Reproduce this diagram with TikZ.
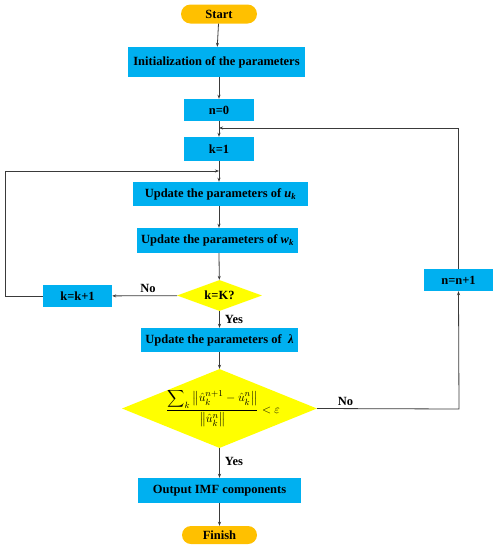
\documentclass[tikz,border=0pt]{standalone}
\usepackage{fontspec}
\setmainfont{Liberation Serif}
\usepackage{amsmath}
\usetikzlibrary{shapes.geometric,shapes.misc,arrows.meta}
\definecolor{boxblue}{HTML}{00B0F0}
\definecolor{pillorange}{HTML}{FFC000}
\definecolor{decyellow}{HTML}{FFFF00}
\definecolor{linegray}{HTML}{3A3A3A}
\tikzset{
  procbox/.style={fill=boxblue, draw=none, inner sep=0pt, font=\fontsize{12.5}{14}\selectfont\bfseries, align=center},
  pill/.style={fill=pillorange, draw=none, rounded rectangle, inner sep=0pt, font=\fontsize{12.5}{14}\selectfont\bfseries},
  decision/.style={fill=decyellow, draw=none, diamond, aspect=2.6, inner sep=0pt, font=\fontsize{12.5}{14}\selectfont\bfseries},
  flow/.style={draw=linegray, line width=0.8pt, -{Stealth[length=4pt,width=3pt]}},
  lbl/.style={font=\fontsize{12.5}{14}\selectfont\bfseries, inner sep=0pt}
}
\begin{document}
\begin{tikzpicture}[x=1pt,y=-1pt]
\useasboundingbox (0,0) rectangle (498,550);
\node[pill, minimum width=76pt, minimum height=19pt] (start) at (219,14) {Start};
\node[procbox, minimum width=177pt, minimum height=30pt] (init) at (216.5,62) {Initialization of the parameters};
\node[procbox, minimum width=70pt, minimum height=22pt] (n0) at (219,110) {n=0};
\node[procbox, minimum width=70pt, minimum height=24pt] (k1) at (219,149) {k=1};
\node[procbox, minimum width=175pt, minimum height=24pt] (uk) at (220.5,194) {Update the parameters of \textit{u}\textsubscript{\textit{k}}};
\node[procbox, minimum width=161pt, minimum height=25pt] (wk) at (217.5,240.5) {Update the parameters of \textit{w}\textsubscript{\textit{k}}};
\node[decision, minimum width=85pt, minimum height=31pt] (d1) at (219.5,295.5) {k=K?};
\node[procbox, minimum width=69pt, minimum height=22pt] (kk) at (77.5,296) {k=k+1};
\node[procbox, minimum width=157pt, minimum height=24pt] (lam) at (219.5,340) {Update the parameters of \ \textit{λ}};
\node[decision, minimum width=195pt, minimum height=79pt] (d2) at (219.5,408.5) {};
\node[inner sep=0pt, font=\fontsize{13}{15}\selectfont] (d2t) at (223,408) {$\displaystyle\frac{\displaystyle\sum\nolimits_k \left\|\hat{u}_k^{n+1}-\hat{u}_k^{n}\right\|}{\left\|\hat{u}_k^{n}\right\|}<\varepsilon$};
\node[procbox, minimum width=163pt, minimum height=25pt] (out) at (219.5,490.5) {Output IMF components};
\node[pill, minimum width=75pt, minimum height=18pt] (fin) at (219.5,535) {Finish};
\node[procbox, minimum width=69pt, minimum height=22pt] (nn) at (458.5,280) {n=n+1};
% coordinates
\coordinate (lp) at (219,171);
\coordinate (lx) at (5,296);
\coordinate (rp) at (219,128);
\coordinate (rx) at (459,409);
% flow
\draw[flow] (start) -- (init);
\draw[flow] (init.south -| start) -- (n0);
\draw[flow] (n0) -- (k1);
\draw[flow] (k1) -- (uk.north -| k1);
\draw[flow] (uk.south -| k1) -- (wk.north -| k1);
\draw[flow] (wk.south -| k1) -- (d1);
\draw[flow] (d1) -- node[lbl, pos=0.5, right=5pt] {Yes} (lam.north -| d1);
\draw[flow] (lam) -- (d2);
\draw[flow] (d2) -- node[lbl, pos=0.45, right=5pt] {Yes} (out);
\draw[flow] (out) -- (fin);
\draw[flow] (d1) -- node[lbl, above=3pt, pos=0.45] {No} (kk);
\draw[flow] (kk.west) -- (lx) |- (lp);
\draw[flow] (d2.east) -- node[lbl, above=3pt, pos=0.2] {No} (rx) -- (nn.south);
\draw[flow] (nn.north) |- (rp);
\end{tikzpicture}
\end{document}
